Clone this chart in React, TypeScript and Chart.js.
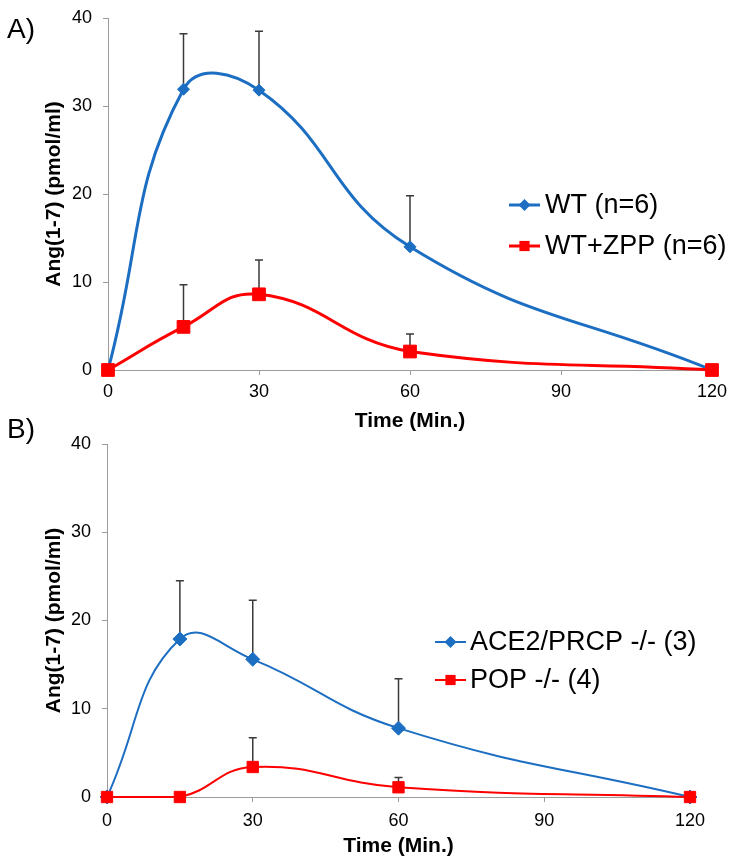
import React, { useEffect, useRef } from 'react';
import { Chart, registerables } from 'chart.js';

Chart.register(...registerables);

// ---------- data ----------
const timePoints = [0, 15, 30, 60, 120];
const xTickValues = [0, 30, 60, 90, 120];
const yTickValues = [0, 10, 20, 30, 40];

const wtMean = [0, 31.9, 31.8, 14.0, 0];
const wtErr = [0, 6.3, 6.7, 5.8, 0];
const wtZppMean = [0, 4.9, 8.6, 2.1, 0];
const wtZppErr = [0, 4.8, 3.9, 2.0, 0];

const ace2PrcpMean = [0, 17.9, 15.6, 7.8, 0];
const ace2PrcpErr = [0, 6.6, 6.7, 5.6, 0];
const popMean = [0, 0, 3.4, 1.1, 0];
const popErr = [0, 0, 3.3, 1.1, 0];

const seriesLabelsA = ['WT (n=6)', 'WT+ZPP (n=6)'];
const seriesLabelsB = ['ACE2/PRCP -/- (3)', 'POP -/- (4)'];
const panelLabels = ['A)', 'B)'];
const xTitle = 'Time (Min.)';
const yTitle = 'Ang(1-7) (pmol/ml)';

// ---------- styles ----------
const BLUE = '#1c6ec2';
const RED = '#ff0000';
const AXIS = '#9b9b9b';
const FONT = '"Liberation Sans", Arial, Helvetica, sans-serif';

const errorBarsPlugin = {
  id: 'errorBars',
  beforeDatasetsDraw(chart: any) {
    const { ctx } = chart;
    const xs = chart.scales.x;
    const ys = chart.scales.y;
    chart.data.datasets.forEach((ds: any) => {
      if (!ds.errorPlus) return;
      ctx.save();
      ctx.strokeStyle = '#3a3a3a';
      ctx.lineWidth = 1.5;
      ds.data.forEach((pt: any, i: number) => {
        const e = ds.errorPlus[i];
        if (!e) return;
        const px = xs.getPixelForValue(pt.x);
        const py0 = ys.getPixelForValue(pt.y);
        const py1 = ys.getPixelForValue(pt.y + e);
        ctx.beginPath();
        ctx.moveTo(px, py0);
        ctx.lineTo(px, py1);
        ctx.moveTo(px - 4, py1);
        ctx.lineTo(px + 4, py1);
        ctx.stroke();
      });
      ctx.restore();
    });
  },
};

const insideLegendPlugin = {
  id: 'insideLegend',
  afterDraw(chart: any, _args: any, opts: any) {
    const { ctx } = chart;
    ctx.save();
    chart.data.datasets.forEach((ds: any, i: number) => {
      const y = opts.y + i * opts.rowGap;
      ctx.strokeStyle = ds.borderColor;
      ctx.lineWidth = ds.borderWidth;
      ctx.beginPath();
      ctx.moveTo(opts.x, y);
      ctx.lineTo(opts.x + opts.lineLen, y);
      ctx.stroke();
      const cx = opts.x + opts.lineLen / 2;
      const r = opts.markerR;
      ctx.fillStyle = ds.backgroundColor;
      ctx.beginPath();
      if (ds.pointStyle === 'rectRot') {
        ctx.moveTo(cx - r, y);
        ctx.lineTo(cx, y - r);
        ctx.lineTo(cx + r, y);
        ctx.lineTo(cx, y + r);
        ctx.closePath();
      } else {
        const s = r * 0.85;
        ctx.rect(cx - s, y - s, 2 * s, 2 * s);
      }
      ctx.fill();
      ctx.fillStyle = '#000';
      ctx.font = `${opts.fontSize}px ${FONT}`;
      ctx.textBaseline = 'middle';
      ctx.textAlign = 'left';
      ctx.fillText(ds.label, opts.textX, y + 1);
    });
    ctx.restore();
  },
};

type PanelSpec = {
  labels: string[];
  means: number[][];
  errs: number[][];
  width: number;
  height: number;
  padding: { left: number; right: number; top: number; bottom: number };
  yWidth: number;
  xHeight: number;
  xTickPad: number;
  xTitlePad: number;
  yTitlePad: number;
  lineWidth: number;
  diamondR: number;
  squareR: number;
  tension: number;
  legend: any;
};

function buildConfig(p: PanelSpec): any {
  const mk = (k: number) => timePoints.map((t, i) => ({ x: t, y: p.means[k][i] }));
  return {
    type: 'line',
    data: {
      datasets: [
        {
          label: p.labels[0],
          data: mk(0),
          errorPlus: p.errs[0],
          borderColor: BLUE,
          backgroundColor: BLUE,
          borderWidth: p.lineWidth,
          pointStyle: 'rectRot',
          pointRadius: p.diamondR,
          pointBorderWidth: 1,
          pointBorderColor: BLUE,
          pointBackgroundColor: BLUE,
          tension: p.tension,
          clip: false,
          order: 1,
        },
        {
          label: p.labels[1],
          data: mk(1),
          errorPlus: p.errs[1],
          borderColor: RED,
          backgroundColor: RED,
          borderWidth: p.lineWidth,
          pointStyle: 'rect',
          pointRadius: p.squareR,
          pointBorderWidth: 1,
          pointBorderColor: RED,
          pointBackgroundColor: RED,
          tension: p.tension,
          clip: false,
          order: 0,
        },
      ],
    },
    options: {
      responsive: false,
      animation: false,
      devicePixelRatio: 1,
      events: [],
      layout: { padding: p.padding },
      plugins: {
        legend: { display: false },
        tooltip: { enabled: false },
        insideLegend: p.legend,
      },
      scales: {
        x: {
          type: 'linear',
          min: 0,
          max: 120,
          afterBuildTicks: (s: any) => {
            s.ticks = xTickValues.map((v) => ({ value: v }));
          },
          afterFit: (s: any) => {
            s.height = p.xHeight;
            s.paddingLeft = 0;
            s.paddingRight = 0;
            s.paddingTop = 0;
            s.paddingBottom = 0;
          },
          grid: { drawOnChartArea: false, drawTicks: true, tickLength: 5, color: AXIS, tickColor: AXIS },
          border: { display: true, color: AXIS, width: 1 },
          ticks: {
            padding: p.xTickPad,
            color: '#000',
            font: { family: FONT, size: 18 },
            maxRotation: 0,
            autoSkip: false,
          },
          title: {
            display: true,
            text: xTitle,
            color: '#000',
            font: { family: FONT, size: 21, weight: 'bold' },
            padding: { top: 0, bottom: p.xTitlePad },
          },
        },
        y: {
          type: 'linear',
          min: 0,
          max: 40,
          afterBuildTicks: (s: any) => {
            s.ticks = yTickValues.map((v) => ({ value: v }));
          },
          afterFit: (s: any) => {
            s.width = p.yWidth;
            s.paddingLeft = 0;
            s.paddingRight = 0;
            s.paddingTop = 0;
            s.paddingBottom = 0;
          },
          grid: { drawOnChartArea: false, drawTicks: true, tickLength: 5, color: AXIS, tickColor: AXIS },
          border: { display: true, color: AXIS, width: 1 },
          ticks: {
            padding: 11,
            color: '#000',
            font: { family: FONT, size: 18 },
          },
          title: {
            display: true,
            text: yTitle,
            color: '#000',
            font: { family: FONT, size: 21, weight: 'bold' },
            padding: { top: p.yTitlePad, bottom: 0 },
          },
        },
      },
    },
    plugins: [errorBarsPlugin, insideLegendPlugin],
  };
}

const panelA: PanelSpec = {
  labels: seriesLabelsA,
  means: [wtMean, wtZppMean],
  errs: [wtErr, wtZppErr],
  width: 735,
  height: 434,
  padding: { left: 40, right: 23, top: 18, bottom: 0 },
  yWidth: 68,
  xHeight: 64,
  xTickPad: 6,
  xTitlePad: 0,
  yTitlePad: 2,
  lineWidth: 3,
  diamondR: 6,
  squareR: 9,
  tension: 0.45,
  legend: { x: 509, y: 205, rowGap: 41, lineLen: 31, textX: 545, fontSize: 27, markerR: 6 },
};

const panelB: PanelSpec = {
  labels: seriesLabelsB,
  means: [ace2PrcpMean, popMean],
  errs: [ace2PrcpErr, popErr],
  width: 735,
  height: 430,
  padding: { left: 40, right: 45, top: 11, bottom: 0 },
  yWidth: 67,
  xHeight: 66,
  xTickPad: 8,
  xTitlePad: 4,
  yTitlePad: 2,
  lineWidth: 2,
  diamondR: 7,
  squareR: 8,
  tension: 0.45,
  legend: { x: 435, y: 209, rowGap: 38, lineLen: 31, textX: 470, fontSize: 27, markerR: 6 },
};

function Panel({ spec, top }: { spec: PanelSpec; top: number }) {
  const ref = useRef<HTMLCanvasElement | null>(null);
  useEffect(() => {
    if (!ref.current) return;
    const chart = new Chart(ref.current, buildConfig(spec));
    return () => chart.destroy();
  }, [spec]);
  return (
    <canvas
      ref={ref}
      width={spec.width}
      height={spec.height}
      style={{ position: 'absolute', left: 0, top, width: spec.width, height: spec.height }}
    />
  );
}

export default function App() {
  const labelStyle: React.CSSProperties = {
    position: 'absolute',
    left: 7,
    fontFamily: FONT,
    fontSize: 28,
    lineHeight: '28px',
    color: '#000',
    zIndex: 2,
  };
  return (
    <div style={{ position: 'absolute', left: 0, top: 0, width: 735, height: 863, background: '#fff', overflow: 'hidden' }}>
      <Panel spec={panelA} top={0} />
      <Panel spec={panelB} top={433} />
      <div style={{ ...labelStyle, top: 15 }}>{panelLabels[0]}</div>
      <div style={{ ...labelStyle, top: 415 }}>{panelLabels[1]}</div>
    </div>
  );
}
